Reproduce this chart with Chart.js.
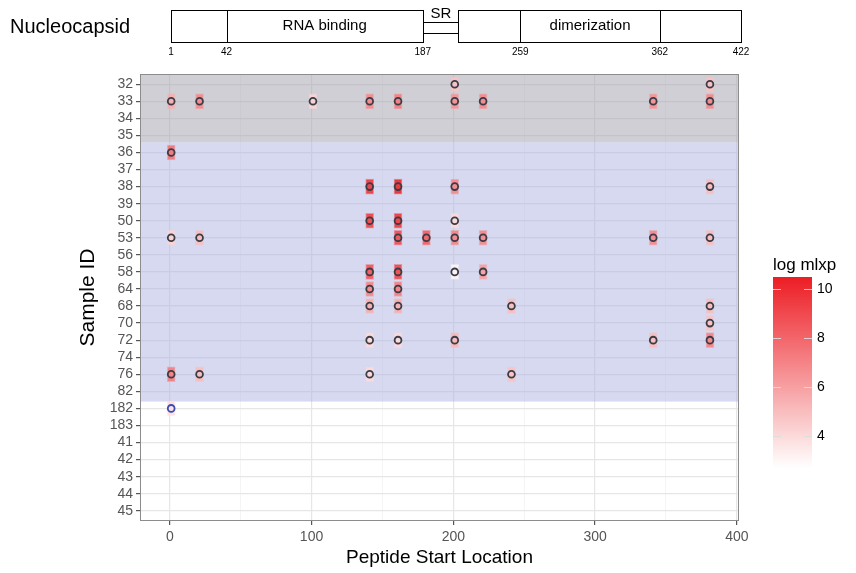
<!DOCTYPE html>
<html>
<head>
<meta charset="utf-8">
<script src="https://cdn.jsdelivr.net/npm/chart.js@4.4.0/dist/chart.umd.min.js"></script>
<style>
  html, body { margin: 0; padding: 0; background: #fff; }
  canvas { display: block; }
</style>
</head>
<body>
<canvas id="chart" width="856" height="573"></canvas>
<script>
// sample IDs, top to bottom
const sampleIds = ['32','33','34','35','36','37','38','39','50','53','56','58','64','68','70','72','74','76','82','182','183','41','42','43','44','45'];
const xTicks = [0, 50, 100, 150, 200, 250, 300, 350, 400];
const xLabelTicks = [0, 100, 200, 300, 400];

// peptide hits: sample, peptide start, log mlxp
const hitSample = ['32','32',
  '33','33','33','33','33','33','33','33','33',
  '36',
  '38','38','38','38',
  '50','50','50',
  '53','53','53','53','53','53','53','53',
  '58','58','58','58',
  '64','64',
  '68','68','68','68',
  '70',
  '72','72','72','72','72',
  '76','76','76','76',
  '182'];
const hitStart = [201, 381,
  1, 21, 101, 141, 161, 201, 221, 341, 381,
  1,
  141, 161, 201, 381,
  141, 161, 201,
  1, 21, 161, 181, 201, 221, 341, 381,
  141, 161, 201, 221,
  141, 161,
  141, 161, 241, 381,
  381,
  141, 161, 201, 341, 381,
  1, 21, 141, 241,
  1];
const hitLogMlxp = [4.8, 4.8,
  5.5, 6.8, 4.2, 6.8, 7.2, 6.5, 6.8, 6.5, 6.8,
  7.5,
  9.5, 10, 6.8, 5,
  9.2, 9.5, 4,
  4.2, 5, 8.8, 8.2, 7, 6.8, 6.8, 5,
  8.5, 9, 3, 6,
  7, 7.2,
  5.5, 5.5, 5, 5,
  4.8,
  4, 4, 5.2, 5, 7,
  7.2, 5, 4, 4.8,
  3.8];
const controlSamples = ['182'];

// shaded sample groups
const greySamples = ['32', '35'];
const blueSamples = ['36', '82'];

// legend
const legendTicks = [4, 6, 8, 10];
const legendRange = [2.7, 10.5];

// protein domain diagram (residues)
const domainBounds = [1, 42, 187, 259, 362, 422];
const linkerSpan = [187, 213];
const domainNames = ['RNA binding', 'dimerization'];
const domainSpans = [[42, 187], [259, 362]];

const lowColor = [255, 255, 255];
const highColor = [236, 30, 36];

function valueColor(v, alpha) {
  let t = (v - legendRange[0]) / (legendRange[1] - legendRange[0]);
  t = Math.max(0, Math.min(1, t));
  const c = lowColor.map((l, i) => Math.round(l + (highColor[i] - l) * t));
  return `rgba(${c[0]},${c[1]},${c[2]},${alpha})`;
}

const idx = s => sampleIds.indexOf(s);
const tileHalf = 2.8;

const tiles = hitStart.map((x, i) => ({ x: [x - tileHalf, x + tileHalf], y: idx(hitSample[i]), v: hitLogMlxp[i] }));
const points = hitStart.map((x, i) => ({ x: x, y: idx(hitSample[i]), s: hitSample[i] }));

const tickFont = { family: "'Liberation Sans', Arial, sans-serif", size: 14 };
const isMajor = c => !!(c && c.tick && xLabelTicks.includes(c.tick.value));

// shaded bands under the data, over the grid
const bandPlugin = {
  id: 'bands',
  beforeDatasetsDraw(chart) {
    const { ctx, chartArea, scales } = chart;
    const y = scales.y;
    ctx.save();
    ctx.beginPath();
    ctx.rect(chartArea.left, chartArea.top, chartArea.width, chartArea.height);
    ctx.clip();
    const g0 = y.getPixelForValue(idx(greySamples[0]) - 0.6);
    const g1 = y.getPixelForValue(idx(greySamples[1]) + 0.4);
    ctx.fillStyle = 'rgba(160,160,172,0.5)';
    ctx.fillRect(chartArea.left, g0, chartArea.width, g1 - g0);
    const b0 = g1;
    const b1 = y.getPixelForValue(idx(blueSamples[1]) + 0.6);
    ctx.fillStyle = 'rgba(168,174,222,0.47)';
    ctx.fillRect(chartArea.left, b0, chartArea.width, b1 - b0);
    ctx.restore();
  }
};

const decorPlugin = {
  id: 'decor',
  afterDraw(chart) {
    const { ctx, chartArea } = chart;
    ctx.save();
    // panel border
    ctx.strokeStyle = '#8c8c8c';
    ctx.lineWidth = 1;
    ctx.strokeRect(chartArea.left + 0.5, chartArea.top + 0.5, chartArea.width - 1, chartArea.height - 1);

    // domain diagram
    const dL = 171, dR = 741, top = 10, bot = 42;
    const rx = r => dL + (r - 1) * (dR - dL) / (domainBounds[domainBounds.length - 1] - 1);
    ctx.fillStyle = '#000';
    ctx.font = "20px 'Liberation Sans', Arial, sans-serif";
    ctx.textAlign = 'left';
    ctx.textBaseline = 'middle';
    ctx.fillText('Nucleocapsid', 10, 27);

    ctx.strokeStyle = '#000';
    ctx.lineWidth = 1;
    const x1 = Math.round(rx(domainBounds[0])) + 0.5;
    const x2 = Math.round(rx(linkerSpan[0])) + 0.5;
    const x3 = Math.round(rx(linkerSpan[1])) + 0.5;
    const x4 = Math.round(rx(domainBounds[domainBounds.length - 1])) + 0.5;
    ctx.strokeRect(x1, top + 0.5, x2 - x1, bot - top);
    ctx.strokeRect(x3, top + 0.5, x4 - x3, bot - top);
    [domainBounds[1], domainBounds[3], domainBounds[4]].forEach(r => {
      const px = Math.round(rx(r)) + 0.5;
      ctx.beginPath();
      ctx.moveTo(px, top);
      ctx.lineTo(px, bot + 0.5);
      ctx.stroke();
    });
    [22.5, 33.5].forEach(yy => {
      ctx.beginPath();
      ctx.moveTo(x2, yy);
      ctx.lineTo(x3, yy);
      ctx.stroke();
    });
    ctx.font = "15px 'Liberation Sans', Arial, sans-serif";
    ctx.textAlign = 'center';
    domainNames.forEach((n, i) => {
      ctx.fillText(n, (rx(domainSpans[i][0]) + rx(domainSpans[i][1])) / 2, 26);
    });
    ctx.fillText('SR', (x2 + x3) / 2, 14);
    ctx.font = "10px 'Liberation Sans Narrow', 'Liberation Sans', Arial, sans-serif";
    domainBounds.forEach(r => {
      ctx.fillText(String(r), rx(r), 52);
    });

    // colour bar legend
    const lx = 773, lw = 39, lt = 277, lb = 468;
    const ly = v => lb - (v - legendRange[0]) / (legendRange[1] - legendRange[0]) * (lb - lt);
    const grad = ctx.createLinearGradient(0, lb, 0, lt);
    for (let k = 0; k <= 10; k++) {
      const v = legendRange[0] + (legendRange[1] - legendRange[0]) * k / 10;
      grad.addColorStop(k / 10, valueColor(v, 1));
    }
    ctx.fillStyle = grad;
    ctx.fillRect(lx, lt, lw, lb - lt);
    ctx.font = "17px 'Liberation Sans', Arial, sans-serif";
    ctx.textAlign = 'left';
    ctx.fillStyle = '#000';
    ctx.textBaseline = 'alphabetic';
    ctx.fillText('log mlxp', lx, 270);
    ctx.font = "14px 'Liberation Sans', Arial, sans-serif";
    ctx.textBaseline = 'middle';
    ctx.strokeStyle = 'rgba(220,220,220,0.9)';
    legendTicks.forEach(t => {
      const py = Math.round(ly(t)) + 0.5;
      ctx.beginPath();
      ctx.moveTo(lx, py); ctx.lineTo(lx + 8, py);
      ctx.moveTo(lx + lw - 8, py); ctx.lineTo(lx + lw, py);
      ctx.stroke();
      ctx.fillText(String(t), lx + lw + 5, py);
    });
    ctx.restore();
  }
};

new Chart(document.getElementById('chart'), {
  type: 'bar',
  data: {
    datasets: [
      {
        type: 'scatter',
        data: points,
        order: 0,
        pointRadius: 3.4,
        pointBorderWidth: 1.8,
        pointBackgroundColor: 'rgba(0,0,0,0)',
        pointBorderColor: c => (c.raw && controlSamples.includes(c.raw.s)) ? '#3a4bb3' : '#3c3c44',
        showLine: false
      },
      {
        type: 'bar',
        indexAxis: 'y',
        data: tiles,
        order: 1,
        barThickness: 15,
        backgroundColor: c => valueColor(c.raw ? c.raw.v : 3, 0.92),
        borderColor: c => valueColor(c.raw ? c.raw.v : 3, 0.45),
        borderWidth: 1,
        borderSkipped: false
      }
    ]
  },
  options: {
    responsive: false,
    animation: false,
    layout: { padding: { left: 76, right: 117, top: 74, bottom: 0 } },
    plugins: { legend: { display: false }, tooltip: { enabled: false } },
    scales: {
      x: {
        type: 'linear',
        offset: false,
        min: -21,
        max: 401.5,
        afterBuildTicks: s => { s.ticks = xTicks.map(v => ({ value: v })); },
        afterFit: s => { s.height = 52; },
        ticks: {
          autoSkip: false,
          maxRotation: 0,
          padding: 4,
          color: '#555',
          font: tickFont,
          callback: v => xLabelTicks.includes(v) ? String(v) : ''
        },
        grid: {
          offset: false,
          color: c => isMajor(c) ? '#e6e6e6' : '#f3f3f3',
          lineWidth: c => isMajor(c) ? 1.2 : 0.8,
          tickColor: c => isMajor(c) ? '#555' : 'rgba(0,0,0,0)',
          tickLength: 4
        },
        border: { display: false },
        title: {
          display: true,
          text: 'Peptide Start Location',
          color: '#000',
          font: { family: "'Liberation Sans', Arial, sans-serif", size: 19 },
          padding: { top: 0, bottom: 4 }
        }
      },
      y: {
        type: 'linear',
        offset: false,
        reverse: true,
        min: -0.6,
        max: sampleIds.length - 0.4,
        afterBuildTicks: s => { s.ticks = sampleIds.map((_, i) => ({ value: i })); },
        afterFit: s => { s.width = 64; },
        ticks: {
          autoSkip: false,
          padding: 3,
          color: '#555',
          font: tickFont,
          callback: v => sampleIds[v]
        },
        grid: {
          offset: false,
          color: '#e6e6e6',
          lineWidth: 1.2,
          tickColor: '#555',
          tickLength: 4
        },
        border: { display: false },
        title: {
          display: true,
          text: 'Sample ID',
          color: '#000',
          font: { family: "'Liberation Sans', Arial, sans-serif", size: 21 },
          padding: { top: 0, bottom: 0 }
        }
      }
    }
  },
  plugins: [bandPlugin, decorPlugin]
});
</script>
</body>
</html>
